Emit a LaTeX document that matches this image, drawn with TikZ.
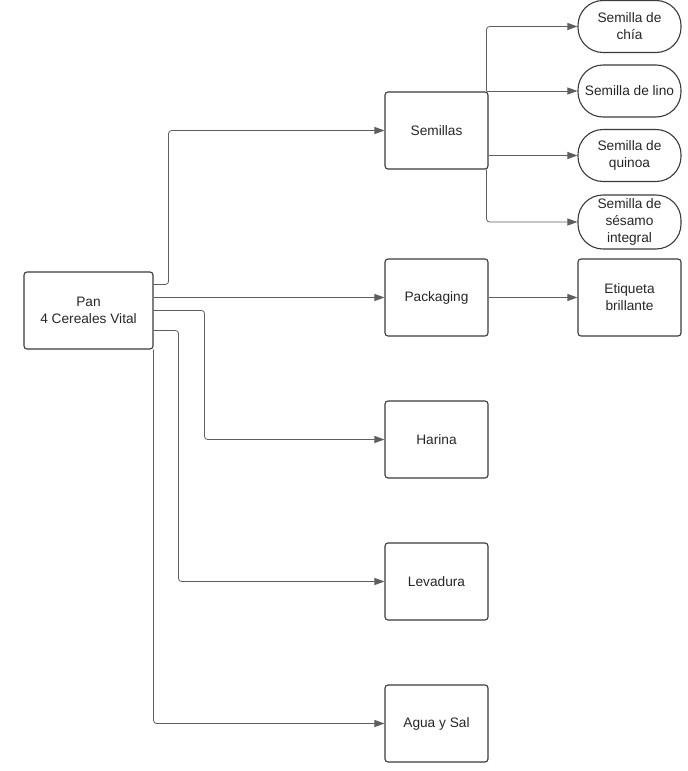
\documentclass[tikz,border=0pt]{standalone}
\usepackage{fontspec}
\setmainfont{Liberation Sans}
\usetikzlibrary{arrows.meta,calc,positioning}
\definecolor{boxline}{HTML}{3A3A3A}
\definecolor{linkline}{HTML}{5E5E5E}

\begin{document}
\begin{tikzpicture}[
    x=1pt, y=-1pt,
    font=\fontsize{13.7}{17}\selectfont, text=black!85,
    part/.style={draw=boxline, line width=1.1pt, rounded corners=3pt, align=center,
      minimum width=103pt, minimum height=77pt, inner sep=2pt},
    seed/.style={draw=boxline, line width=1.1pt, rounded corners=25pt, align=center,
      minimum width=103pt, minimum height=52pt, inner sep=2pt},
    link/.style={-{Triangle[length=10pt,width=7pt]}, line width=0.8pt, draw=linkline,
      rounded corners=3pt}
  ]
    \useasboundingbox (0,0) rectangle (688,771);

    \node[part, minimum width=129pt] (pan) at (88.5,310.5) {Pan\\4 Cereales Vital};

    \node[part] (semillas) at (436.5,130.5) {Semillas};
    \node[part] (packaging) at (436.5,297.5) {Packaging};
    \node[part] (harina) at (436.5,439.5) {Harina};
    \node[part] (levadura) at (436.5,581.5) {Levadura};
    \node[part] (agua) at (436.5,723.5) {Agua y Sal};

    \node[seed] (chia) at (629.5,26.5) {Semilla de\\chía};
    \node[seed] (lino) at (629.5,91) {Semilla de lino};
    \node[seed] (quinoa) at (629.5,155.5) {Semilla de\\quinoa};
    \node[seed, minimum height=54pt] (sesamo) at (629.5,222) {Semilla de\\sésamo\\integral};
    \node[part] (etiqueta) at (629.5,297.5) {Etiqueta\\brillante};

    % Pan -> ingredientes
    \draw[link] ([yshift=-13pt]pan.north east) -- ++(15,0) |- (semillas.west);
    \draw[link] (pan.east |- packaging.west) -- (packaging.west);
    \draw[link] (pan.east) -- ++(51,0) |- (harina.west);
    \draw[link] ([yshift=-20pt]pan.east) -- ++(25,0) |- (levadura.west);
    \draw[link] (pan.south east) |- (agua.west);

    % Semillas -> tipos
    \draw[link] ([xshift=-2pt]semillas.north east) |- (chia.west);
    \draw[link] ([xshift=-2pt]lino.west -| semillas.east) -- (lino.west);
    \draw[link] (quinoa.west -| semillas.east) -- (quinoa.west);
    \draw[link] ([xshift=-2pt]semillas.south east) |- (sesamo.west);

    \draw[link] (packaging.east) -- (etiqueta.west);
  \end{tikzpicture}
\end{document}
